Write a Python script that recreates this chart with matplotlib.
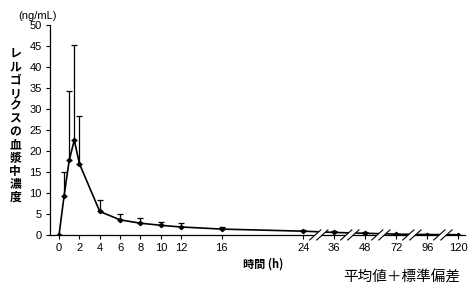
import numpy as np
import matplotlib
matplotlib.use("Agg")
import matplotlib.pyplot as plt

plt.rcParams['font.family'] = ['Liberation Sans', 'Noto Sans CJK JP']

# sampling times (h) and mean / SD-upper values (ng/mL)
times = [0, 0.5, 1, 1.5, 2, 4, 6, 8, 10, 12, 16, 24, 36, 48, 72, 96, 120]
mean = [0, 9.4, 17.8, 22.6, 17.0, 5.6, 3.6, 2.8, 2.3, 1.9, 1.4, 0.9, 0.6, 0.4, 0.2, 0.1, 0.05]
upper = [0, 14.9, 34.3, 45.3, 28.3, 8.4, 5.0, 4.0, 3.2, 2.8, 2.0, 1.2, 0.9, 0.7, 0.3, 0.15, 0.1]
xticks = [0, 2, 4, 6, 8, 10, 12, 16, 24, 36, 48, 72, 96, 120]
late = [24, 36, 48, 72, 96, 120]   # equally spaced after the axis break

def xpos(t):
    if t <= 24:
        return t
    return 24 + 3.05 * late.index(t)

xs = [xpos(t) for t in times]
err = [u - m for m, u in zip(mean, upper)]

fig = plt.figure(figsize=(4.75, 2.89), dpi=100)
ax = fig.add_axes([0.105, 0.187, 0.874, 0.726])

ax.errorbar(xs, mean, yerr=[np.zeros(len(err)), err], fmt='none', ecolor='black',
            elinewidth=0.9, capsize=2.5, capthick=0.9)
ax.plot(xs, mean, color='black', lw=1.2, marker='D', ms=2.2)

ax.set_xlim(-0.9, 39.9)
ax.set_ylim(0, 50)
ax.set_yticks(range(0, 51, 5))
ax.set_xticks([xpos(t) for t in xticks])
ax.set_xticklabels([str(t) for t in xticks])
ax.spines['top'].set_visible(False)
ax.spines['right'].set_visible(False)
ax.tick_params(labelsize=8, length=3, width=0.8, pad=3)
for s in ['left', 'bottom']:
    ax.spines[s].set_linewidth(0.9)

# axis break marks between the late ticks
for a, b in zip(late[:-1], late[1:]):
    mid = (xpos(a) + xpos(b)) / 2
    for d in (-0.35, 0.35):
        ax.plot([mid + d - 0.55, mid + d + 0.55], [-1.2, 1.2], color='black', lw=0.8,
                clip_on=False, zorder=5)
    ax.fill([mid - 0.9, mid + 0.2, mid + 0.9, mid - 0.2], [-1.2, 1.2, 1.2, -1.2],
            color='white', clip_on=False, zorder=4, lw=0)

fig.text(0.038, 0.935, '(ng/mL)', fontsize=8)
fig.text(0.032, 0.565, '\n'.join('レルゴリクスの血漿中濃度'), fontsize=8.5,
         ha='center', va='center', linespacing=1.0, fontweight='bold',
         family=['Noto Sans CJK JP'])
fig.text(0.555, 0.075, '時間 (h)', fontsize=8, ha='center', fontweight='bold',
         family=['Noto Sans CJK JP', 'Liberation Sans'])
fig.text(0.97, 0.025, '平均値＋標準偏差', fontsize=10.5, ha='right',
         family=['Noto Sans CJK JP'])

fig.savefig('out.png', dpi=100)
